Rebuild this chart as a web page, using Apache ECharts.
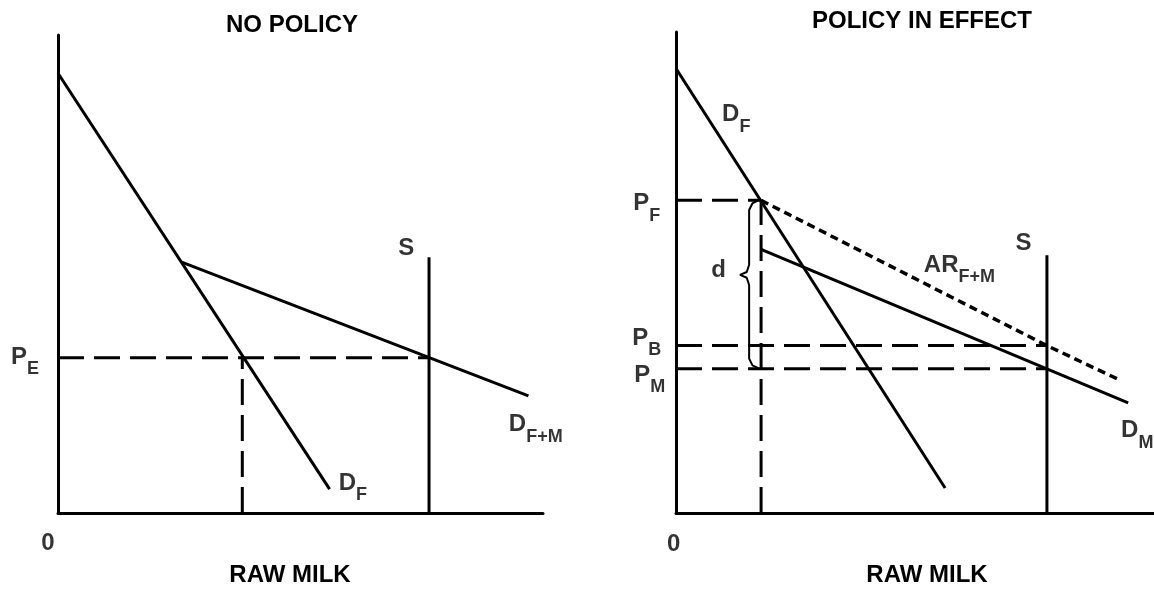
<!DOCTYPE html>
<html>
<head>
<meta charset="utf-8">
<script src="https://cdn.jsdelivr.net/npm/echarts@6/dist/echarts.min.js"></script>
<style>
  html, body { margin: 0; padding: 0; background: #fff; }
  #main { width: 1154px; height: 592px; }
</style>
</head>
<body>
<div id="main"></div>
<script>
// ---- data (axis units: quantity 0-100, price 0-100) ----
// left panel: no policy
var npDemandF = [[0, 92], [56, 5]];
var npDemandFM = [[25.5, 52.5], [97, 24.5]];
var npSupplyQ = 76.5, npSupplyTop = 53.5;
var npPriceE = 32.5, npQtyF = 38;

// right panel: policy in effect
var peDemandF = [[0, 92.4], [56.3, 5.2]];
var peDemandM = [[17.8, 54.8], [94.6, 22.9]];
var peAvgRevenue = [[17.8, 65], [77.6, 34.8], [92.5, 27.8]];
var peSupplyQ = 77.6, peSupplyTop = 53.6;
var pePriceF = 65, pePriceB = 34.8, pePriceM = 30, peQtyF = 17.8;
var peBrace = [[17.2, 65], [16, 64.4], [15.3, 63], [15.3, 51.6], [14.8, 50.1], [13.4, 49.5],
               [14.8, 48.9], [15.3, 47.4], [15.3, 32.1], [16, 30.7], [17.2, 30.1]];

// labels: [x, y, main text, subscript]
var npLabels = [[-6.8, 32.6, 'P', 'E'], [71.8, 55.3, 'S', ''], [60.8, 6.2, 'D', 'F'],
                [98.5, 18.5, 'D', 'F+M'], [-2.1, -6.4, '0', '']];
var peLabels = [[12.6, 82.8, 'D', 'F'], [-6.1, 64.3, 'P', 'F'], [8.9, 50.5, 'd', ''],
                [-6.1, 36.4, 'P', 'B'], [-5.5, 28.6, 'P', 'M'], [59.3, 51.5, 'AR', 'F+M'],
                [72.7, 56.0, 'S', ''], [96.5, 17.1, 'D', 'M'], [-0.5, -6.5, '0', '']];

var FONT = '"Liberation Sans", Arial, sans-serif';

var chart = echarts.init(document.getElementById('main'), null, { renderer: 'canvas' });

function line(idx, data, style) {
    return {
        type: 'line', xAxisIndex: idx, yAxisIndex: idx, data: data,
        symbol: 'none', silent: true, clip: false,
        lineStyle: Object.assign({ color: '#000', width: 3 }, style)
    };
}

function labels(idx, list) {
    return {
        type: 'scatter', xAxisIndex: idx, yAxisIndex: idx, symbolSize: 0,
        silent: true, clip: false,
        data: list.map(function (l) {
            return {
                value: [l[0], l[1]],
                label: { formatter: l[3] ? '{m|' + l[2] + '}{s|' + l[3] + '}' : '{m|' + l[2] + '}' }
            };
        }),
        label: {
            show: true, position: 'inside', color: '#000',
            rich: {
                m: { fontSize: 24, fontWeight: 'bold', fontFamily: FONT, lineHeight: 24, verticalAlign: 'top', color: '#000' },
                s: { fontSize: 18, fontWeight: 'bold', fontFamily: FONT, lineHeight: 18, verticalAlign: 'top',
                     padding: [15, 0, 0, 0], color: '#000' }
            }
        }
    };
}

function axis(idx, extra) {
    return Object.assign({
        gridIndex: idx, type: 'value', min: 0, max: 100,
        axisLine: { show: true, onZero: false, lineStyle: { color: '#000', width: 3 } },
        axisTick: { show: false }, axisLabel: { show: false }, splitLine: { show: false }
    }, extra);
}

var titleStyle = { fontSize: 24, fontWeight: 'bold', fontFamily: FONT, lineHeight: 24, color: '#000' };
var dash = { type: [26, 10], width: 3 };

var option = {
    animation: false,
    backgroundColor: '#fff',
    title: [
        { text: 'NO POLICY', left: 287, top: 8, textAlign: 'center', textStyle: titleStyle },
        { text: 'POLICY IN EFFECT', left: 917, top: 4, textAlign: 'center', textStyle: titleStyle }
    ],
    grid: [
        { left: 58, top: 35, width: 485, height: 484 },
        { left: 676, top: 32, width: 478, height: 486 }
    ],
    xAxis: [
        axis(0, { name: 'RAW MILK', nameLocation: 'middle', nameGap: 50,
                  nameTextStyle: Object.assign({ padding: [0, 21, 0, 0] }, titleStyle) }),
        axis(1, { name: 'RAW MILK', nameLocation: 'middle', nameGap: 50,
                  nameTextStyle: Object.assign({ padding: [0, 0, 0, 24] }, titleStyle) })
    ],
    yAxis: [axis(0), axis(1)],
    series: [
        // no policy
        line(0, npDemandF),
        line(0, npDemandFM),
        line(0, [[npSupplyQ, 0], [npSupplyQ, npSupplyTop]]),
        line(0, [[0, npPriceE], [npSupplyQ, npPriceE]], dash),
        line(0, [[npQtyF, 0], [npQtyF, npPriceE]], dash),
        labels(0, npLabels),
        // policy in effect
        line(1, peDemandF),
        line(1, peDemandM),
        line(1, peAvgRevenue, { type: [8, 5], width: 3.5 }),
        line(1, [[peSupplyQ, 0], [peSupplyQ, peSupplyTop]]),
        line(1, [[0, pePriceF], [peQtyF, pePriceF]], dash),
        line(1, [[0, pePriceB], [peSupplyQ, pePriceB]], dash),
        line(1, [[0, pePriceM], [peSupplyQ, pePriceM]], dash),
        line(1, [[peQtyF, 0], [peQtyF, pePriceF]], dash),
        line(1, peBrace, { width: 2 }),
        labels(1, peLabels)
    ]
};

chart.setOption(option);
</script>
</body>
</html>
